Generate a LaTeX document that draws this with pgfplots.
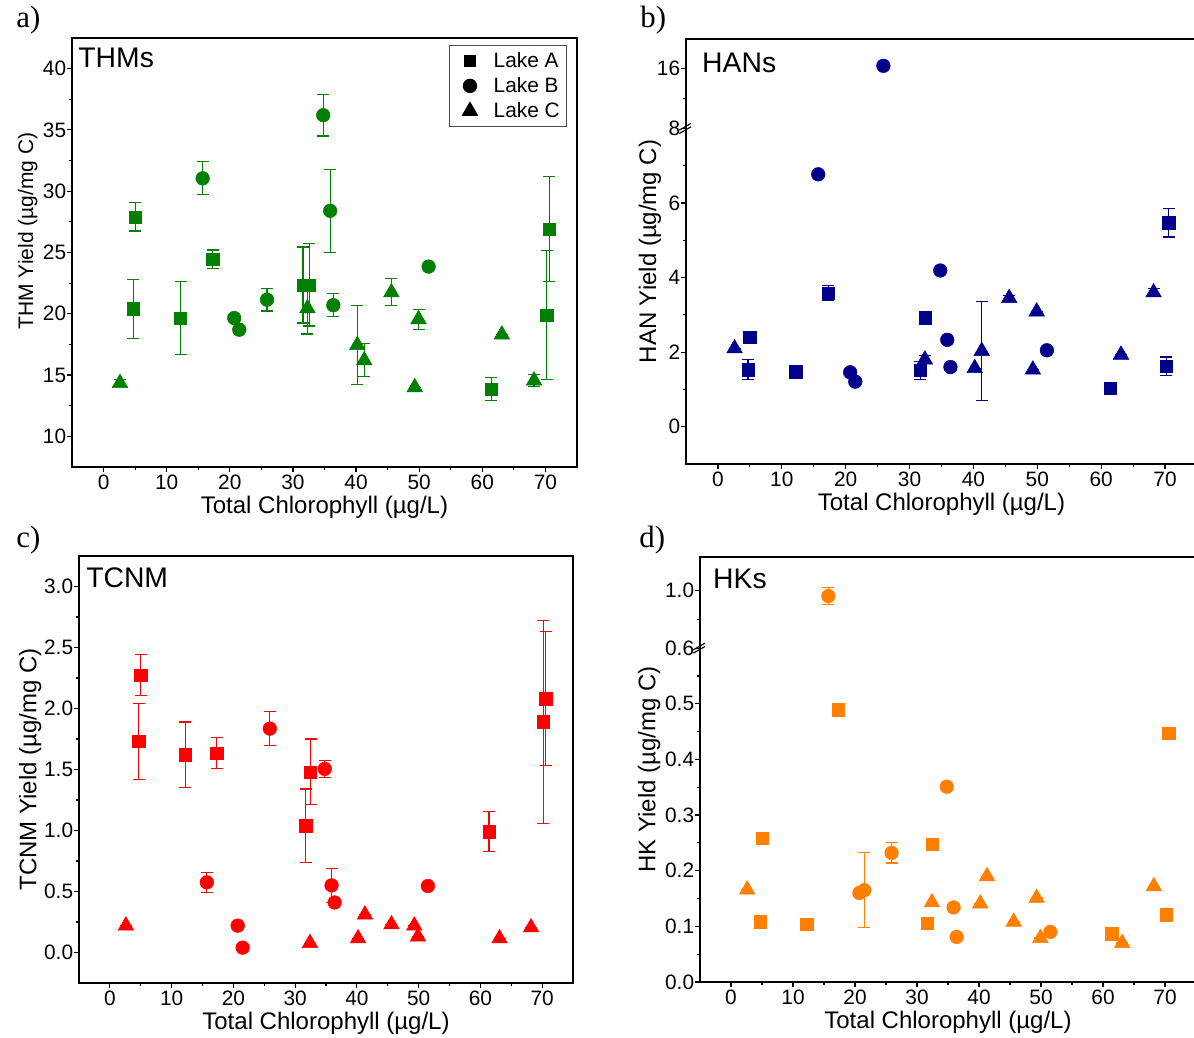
\documentclass[border=0pt]{standalone}
\usepackage{fontspec}
\setmainfont{Liberation Sans}
\newfontfamily\timesfont{Liberation Serif}
\usepackage{pgfplots}
\usepackage{pgfplotstable}
\pgfplotsset{compat=1.18}

\definecolor{thmgreen}{RGB}{0,128,0}
\definecolor{hanblue}{RGB}{0,0,139}
\definecolor{tcnmred}{RGB}{255,0,0}
\definecolor{hkorange}{RGB}{255,128,0}

% x = total chlorophyll, y = yield, e = error (0 = no bar)
\pgfplotstableread{
x y e
4.7 20.4 2.4
5.0 27.9 1.15
12.2 19.65 2.95
17.3 24.45 0.75
31.6 22.35 3.1
32.6 22.35 3.35
61.4 13.85 0.95
70.2 19.9 5.25
70.6 26.9 4.3
}\thmA
\pgfplotstableread{
x y e
15.7 31.05 1.35
20.7 19.65 0
21.5 18.7 0
25.9 21.15 0.93
34.8 36.2 1.7
35.9 28.4 3.4
36.4 20.7 0.95
51.5 23.85 0
}\thmB
\pgfplotstableread{
x y e
2.6 14.35 0.3
32.3 20.45 2.1
40.2 17.45 3.2
41.3 16.2 1.35
45.6 21.75 1.1
49.3 14.0 0
49.9 19.55 0.8
63.1 18.3 0
68.2 14.55 0.5
}\thmC

\pgfplotstableread{
x y e
4.7 1.53 0.27
5.0 2.4 0
12.2 1.47 0
17.3 3.58 0.2
31.7 1.51 0.25
32.5 2.92 0
61.4 1.03 0
70.2 1.62 0.25
70.6 5.47 0.38
}\hanA
\pgfplotstableread{
x y e
15.7 6.77 0
20.7 1.46 0
21.5 1.21 0
25.9 16.4 0
34.8 4.19 0
35.9 2.33 0
36.4 1.6 0
51.5 2.05 0
}\hanB
\pgfplotstableread{
x y e
2.6 2.1 0
32.4 1.8 0.1
40.2 1.57 0
41.3 2.03 1.33
45.6 3.45 0.08
49.3 1.53 0
49.9 3.09 0
63.1 1.93 0
68.2 3.6 0.1
}\hanC

\pgfplotstableread{
x y e
4.7 1.73 0.31
5.0 2.275 0.17
12.2 1.62 0.27
17.3 1.635 0.125
31.7 1.04 0.3
32.5 1.48 0.27
61.4 0.99 0.165
70.2 1.89 0.83
70.6 2.08 0.55
}\tcnmA
\pgfplotstableread{
x y e
15.7 0.575 0.08
20.7 0.22 0
21.5 0.04 0
25.9 1.835 0.14
34.8 1.505 0.07
35.9 0.55 0.14
36.4 0.41 0
51.5 0.545 0
}\tcnmB
\pgfplotstableread{
x y e
2.6 0.22 0
32.4 0.077 0
40.2 0.115 0
41.3 0.31 0
45.6 0.23 0
49.3 0.22 0
49.9 0.13 0
63.1 0.115 0
68.2 0.205 0
}\tcnmC

\pgfplotstableread{
x y e
4.7 0.108 0
5.0 0.258 0
12.2 0.104 0
17.3 0.489 0
31.7 0.106 0
32.5 0.248 0
61.4 0.087 0
70.2 0.121 0
70.6 0.447 0
}\hkA
% error of the 0.96 point is given in compressed (upper segment) units: 0.06*0.26
\pgfplotstableread{
x y e
15.7 0.96 0.0156
20.7 0.16 0
21.5 0.165 0.067
25.9 0.232 0.018
34.8 0.351 0
35.9 0.134 0
36.4 0.081 0
51.5 0.09 0
}\hkB
\pgfplotstableread{
x y e
2.6 0.166 0
32.4 0.143 0
40.2 0.141 0
41.3 0.19 0
45.6 0.108 0
49.3 0.151 0
49.9 0.079 0
63.1 0.07 0
68.2 0.172 0
}\hkC

\tikzset{
  ttl/.style={anchor=base west, inner sep=0pt, font=\fontsize{17}{20}\selectfont},
  tag/.style={anchor=base west, inner sep=0pt, font=\timesfont\fontsize{18.5}{22}\selectfont},
  brk/.style={line width=0.7pt},
}
\pgfplotsset{
  panel/.style={
    scale only axis,
    anchor=south west,
    xmin=-5, xmax=75,
    xtick={0,10,...,70},
    minor xtick={5,15,...,65},
    tick align=outside,
    tick pos=left,
    major tick length=3pt,
    minor tick length=1.8pt,
    every tick/.style={black, line width=0.7pt},
    axis line style={line width=0.9pt},
    tick label style={font=\fontsize{12.5}{14}\selectfont},
    xticklabel style={yshift=1.8pt},
    yticklabel style={xshift=3pt},
    label style={font=\fontsize{14.4}{17}\selectfont},
    xlabel style={yshift=2.8pt},
    xlabel={Total Chlorophyll (µg/L)},
    /pgf/number format/assume math mode=true,
    scaled ticks=false,
    clip=false,
  },
  ser/.style 2 args={only marks, mark=#1, color=#2,
    mark options={solid, fill=#2, draw=#2, line width=0.3pt},
    error bars/y dir=both, error bars/y explicit,
    error bars/error bar style={line width=0.7pt, #2},
    error bars/error mark options={rotate=90, line width=0.7pt, mark size=3.6pt, #2}},
  sqr/.style={ser={square*}{#1}, mark size=3.7pt, forget plot},
  crc/.style={ser={*}{#1}, mark size=4.1pt, forget plot},
  tri/.style={ser={triangle*}{#1}, mark size=5.4pt, forget plot},
  legmark/.style={legend image code/.code={
    \path (0cm,0cm) (0.78cm,0cm);
    \draw[##1] plot coordinates {(0.36cm,0cm)};}},
}

\begin{document}
\begin{tikzpicture}
\useasboundingbox (0,0) rectangle (716.4pt,622.8pt);

% a) THMs
\begin{axis}[panel, at={(43.2pt,342.6pt)}, width=303pt, height=257.4pt,
  ymin=7.5, ymax=42.5, ytick={10,15,...,40}, minor ytick={12.5,17.5,...,37.5},
  ylabel={THM Yield (µg/mg C)},
  ylabel style={at={(ticklabel cs:0.55)}, font=\fontsize{12.6}{15}\selectfont},
  ylabel shift=-3.6pt,
  legend style={at={(rel axis cs:0.98,0.984)}, anchor=north east,
    font=\fontsize{12.5}{15}\selectfont, draw=black!70, line width=0.6pt,
    inner xsep=2pt, inner ysep=2pt, row sep=0.5pt, cells={anchor=west}}]
\addplot[sqr=thmgreen] table[x=x, y=y, y error=e] {\thmA};
\addplot[crc=thmgreen] table[x=x, y=y, y error=e] {\thmB};
\addplot[tri=thmgreen] table[x=x, y=y, y error=e] {\thmC};
\addlegendimage{only marks, mark=square*, black, mark size=3.4pt, legmark}
\addlegendentry{Lake A}
\addlegendimage{only marks, mark=*, black, mark size=4pt, legmark}
\addlegendentry{Lake B}
\addlegendimage{only marks, mark=triangle*, black, mark size=5.2pt, legmark}
\addlegendentry{Lake C}
\node[ttl] at (rel axis cs:0.012,0.932) {THMs};
\end{axis}

% b) HANs, broken axis at 8
\begin{axis}[panel, at={(411.6pt,344.4pt)}, width=306.6pt, height=255pt,
  y coord trafo/.code={\pgfmathparse{#1>8 ? 8+(#1-8)*0.2 : #1}},
  y coord inv trafo/.code={\pgfmathparse{#1>8 ? 8+(#1-8)/0.2 : #1}},
  ymin=-1, ymax=20, ytick={0,2,4,6,8,16}, yticklabels={0,2,4,6,8,16},
  minor ytick={1,3,5,7,12},
  ylabel={HAN Yield (µg/mg C)}, ylabel shift=-9.4pt]
\addplot[sqr=hanblue] table[x=x, y=y, y error=e] {\hanA};
\addplot[crc=hanblue] table[x=x, y=y, y error=e] {\hanB};
\addplot[tri=hanblue] table[x=x, y=y, y error=e] {\hanC};
\draw[brk] ([xshift=-4pt,yshift=-3pt]axis cs:-5,8) -- ([xshift=3pt,yshift=1pt]axis cs:-5,8);
\draw[brk] ([xshift=-4pt,yshift=-1pt]axis cs:-5,8) -- ([xshift=3pt,yshift=3pt]axis cs:-5,8);
\node[ttl] at (rel axis cs:0.031,0.92) {HANs};
\end{axis}

% c) TCNM
\begin{axis}[panel, at={(47.4pt,33pt)}, width=296.4pt, height=256.2pt,
  ymin=-0.25, ymax=3.25, ytick={0,0.5,...,3}, minor ytick={0.25,0.75,...,2.75},
  yticklabel style={/pgf/number format/.cd, fixed, fixed zerofill, precision=1},
  ylabel={TCNM Yield (µg/mg C)}, ylabel shift=-5.2pt]
\addplot[sqr=tcnmred] table[x=x, y=y, y error=e] {\tcnmA};
\addplot[crc=tcnmred] table[x=x, y=y, y error=e] {\tcnmB};
\addplot[tri=tcnmred] table[x=x, y=y, y error=e] {\tcnmC};
\node[ttl] at (rel axis cs:0.014,0.927) {TCNM};
\end{axis}

% d) HKs, broken axis at 0.6
\begin{axis}[panel, at={(420pt,33.6pt)}, width=297.6pt, height=255pt,
  y coord trafo/.code={\pgfmathparse{#1>0.6 ? 0.6+(#1-0.6)*0.26 : #1}},
  y coord inv trafo/.code={\pgfmathparse{#1>0.6 ? 0.6+(#1-0.6)/0.26 : #1}},
  ymin=0, ymax=1.23, ytick={0,0.1,0.2,0.3,0.4,0.5,0.6,1.0},
  yticklabels={0.0,0.1,0.2,0.3,0.4,0.5,0.6,1.0},
  minor ytick={0.05,0.15,0.25,0.35,0.45,0.55,0.8},
  ylabel={HK Yield (µg/mg C)}, ylabel shift=-4pt]
\addplot[sqr=hkorange] table[x=x, y=y, y error=e] {\hkA};
\addplot[crc=hkorange] table[x=x, y=y, y error=e] {\hkB};
\addplot[tri=hkorange] table[x=x, y=y, y error=e] {\hkC};
\draw[brk] ([xshift=-4pt,yshift=-3pt]axis cs:-5,0.6) -- ([xshift=3pt,yshift=1pt]axis cs:-5,0.6);
\draw[brk] ([xshift=-4pt,yshift=-1pt]axis cs:-5,0.6) -- ([xshift=3pt,yshift=3pt]axis cs:-5,0.6);
\node[ttl] at (rel axis cs:0.026,0.927) {HKs};
\end{axis}

\node[tag] at (9.6pt,606pt) {a)};
\node[tag] at (384pt,606pt) {b)};
\node[tag] at (9.6pt,294pt) {c)};
\node[tag] at (383.4pt,294pt) {d)};
\end{tikzpicture}
\end{document}
